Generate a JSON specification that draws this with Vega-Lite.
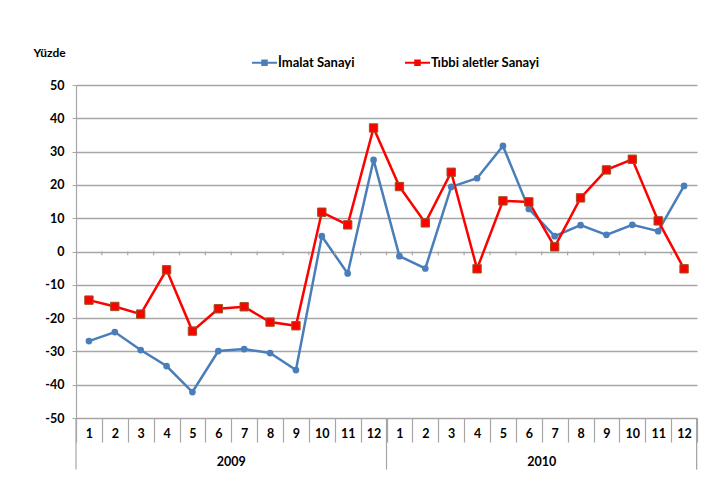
{
  "$schema": "https://vega.github.io/schema/vega-lite/v6.json",
  "autosize": "none",
  "width": 621,
  "height": 333,
  "padding": {"left": 76, "top": 85, "right": 13, "bottom": 79},
  "background": "white",
  "config": {
    "font": "Lato",
    "view": {"stroke": null},
    "axis": {"labelFont": "Lato", "labelFontWeight": "bold", "labelFontSize": 12.5, "labelColor": "#000", "titleFont": "Lato"}
  },
  "datasets": {
    "series": [
      {"idx": 1, "series": "İmalat Sanayi", "value": -26.9},
      {"idx": 2, "series": "İmalat Sanayi", "value": -24.2},
      {"idx": 3, "series": "İmalat Sanayi", "value": -29.6},
      {"idx": 4, "series": "İmalat Sanayi", "value": -34.4},
      {"idx": 5, "series": "İmalat Sanayi", "value": -42.2},
      {"idx": 6, "series": "İmalat Sanayi", "value": -29.9},
      {"idx": 7, "series": "İmalat Sanayi", "value": -29.3},
      {"idx": 8, "series": "İmalat Sanayi", "value": -30.5},
      {"idx": 9, "series": "İmalat Sanayi", "value": -35.6},
      {"idx": 10, "series": "İmalat Sanayi", "value": 4.6},
      {"idx": 11, "series": "İmalat Sanayi", "value": -6.6},
      {"idx": 12, "series": "İmalat Sanayi", "value": 27.5},
      {"idx": 13, "series": "İmalat Sanayi", "value": -1.4},
      {"idx": 14, "series": "İmalat Sanayi", "value": -5.1},
      {"idx": 15, "series": "İmalat Sanayi", "value": 19.4},
      {"idx": 16, "series": "İmalat Sanayi", "value": 22.0},
      {"idx": 17, "series": "İmalat Sanayi", "value": 31.7},
      {"idx": 18, "series": "İmalat Sanayi", "value": 12.8},
      {"idx": 19, "series": "İmalat Sanayi", "value": 4.6},
      {"idx": 20, "series": "İmalat Sanayi", "value": 7.9},
      {"idx": 21, "series": "İmalat Sanayi", "value": 5.0},
      {"idx": 22, "series": "İmalat Sanayi", "value": 8.0},
      {"idx": 23, "series": "İmalat Sanayi", "value": 6.1},
      {"idx": 24, "series": "İmalat Sanayi", "value": 19.7},
      {"idx": 1, "series": "Tıbbi aletler Sanayi", "value": -14.6},
      {"idx": 2, "series": "Tıbbi aletler Sanayi", "value": -16.5},
      {"idx": 3, "series": "Tıbbi aletler Sanayi", "value": -18.8},
      {"idx": 4, "series": "Tıbbi aletler Sanayi", "value": -5.5},
      {"idx": 5, "series": "Tıbbi aletler Sanayi", "value": -23.9},
      {"idx": 6, "series": "Tıbbi aletler Sanayi", "value": -17.2},
      {"idx": 7, "series": "Tıbbi aletler Sanayi", "value": -16.6},
      {"idx": 8, "series": "Tıbbi aletler Sanayi", "value": -21.2},
      {"idx": 9, "series": "Tıbbi aletler Sanayi", "value": -22.3},
      {"idx": 10, "series": "Tıbbi aletler Sanayi", "value": 11.8},
      {"idx": 11, "series": "Tıbbi aletler Sanayi", "value": 8.0},
      {"idx": 12, "series": "Tıbbi aletler Sanayi", "value": 37.1},
      {"idx": 13, "series": "Tıbbi aletler Sanayi", "value": 19.5},
      {"idx": 14, "series": "Tıbbi aletler Sanayi", "value": 8.6},
      {"idx": 15, "series": "Tıbbi aletler Sanayi", "value": 23.8},
      {"idx": 16, "series": "Tıbbi aletler Sanayi", "value": -5.2},
      {"idx": 17, "series": "Tıbbi aletler Sanayi", "value": 15.2},
      {"idx": 18, "series": "Tıbbi aletler Sanayi", "value": 14.9},
      {"idx": 19, "series": "Tıbbi aletler Sanayi", "value": 1.4},
      {"idx": 20, "series": "Tıbbi aletler Sanayi", "value": 16.1},
      {"idx": 21, "series": "Tıbbi aletler Sanayi", "value": 24.5},
      {"idx": 22, "series": "Tıbbi aletler Sanayi", "value": 27.7},
      {"idx": 23, "series": "Tıbbi aletler Sanayi", "value": 9.2},
      {"idx": 24, "series": "Tıbbi aletler Sanayi", "value": -5.2}
    ],
    "years": [
      {"idx": 6, "year": "2009"},
      {"idx": 18, "year": "2010"}
    ],
    "edges": [
      {"idx": 1, "side": "start"},
      {"idx": 13, "side": "start"},
      {"idx": 24, "side": "end"}
    ],
    "zeroticks": [
      {"idx": 2}, {"idx": 3}, {"idx": 4}, {"idx": 5}, {"idx": 6}, {"idx": 7}, {"idx": 8}, {"idx": 9}, {"idx": 10}, {"idx": 11}, {"idx": 12}, {"idx": 13},
      {"idx": 14}, {"idx": 15}, {"idx": 16}, {"idx": 17}, {"idx": 18}, {"idx": 19}, {"idx": 20}, {"idx": 21}, {"idx": 22}, {"idx": 23}, {"idx": 24}
    ]
  },
  "layer": [
    {
      "data": {"name": "series"},
      "mark": {"type": "line", "strokeWidth": 2.5},
      "encoding": {
        "x": {"field": "idx", "type": "ordinal",
          "scale": {"domain": [1,2,3,4,5,6,7,8,9,10,11,12,13,14,15,16,17,18,19,20,21,22,23,24], "paddingInner": 0, "paddingOuter": 0},
          "axis": {
            "title": null, "domain": false, "grid": false,
            "ticks": true, "tickBand": "extent", "tickSize": 24, "tickColor": "#a6a6a6", "tickWidth": 1.2,
            "labelPadding": -15, "labelBaseline": "top", "labelAngle": 0,
            "labelExpr": "datum.value >= 1 ? '' + (((datum.value - 1) % 12) + 1) : ''"
          }},
        "y": {"field": "value", "type": "quantitative",
          "scale": {"domain": [-50, 50], "nice": false, "zero": false},
          "axis": {
            "values": [-50,-40,-30,-20,-10,0,10,20,30,40,50],
            "tickCount": 11,
            "labelOverlap": false,
            "labelExpr": "datum.value < 0 ? '-' + abs(datum.value) : '' + datum.value",
            "grid": true, "gridColor": "#a6a6a6", "gridWidth": 1.5,
            "domain": true, "domainColor": "#a6a6a6", "domainWidth": 1.2,
            "ticks": true, "tickSize": 4, "tickColor": "#a6a6a6",
            "labelPadding": 8,
            "title": "Yüzde", "titleAngle": 0, "titleX": -43, "titleY": -33,
            "titleAlign": "left", "titleBaseline": "middle", "titleFontSize": 12, "titleFontWeight": "bold", "titleColor": "#000"
          }},
        "color": {"field": "series", "type": "nominal",
          "scale": {"domain": ["İmalat Sanayi", "Tıbbi aletler Sanayi"], "range": ["#4a7ebb", "#ff0000"]},
          "legend": {
            "title": null, "orient": "none", "direction": "horizontal",
            "legendX": 176, "legendY": -35,
            "symbolType": "M-1,-0.08L1,-0.08L1,0.08L-1,0.08Z M-0.26,-0.26L0.26,-0.26L0.26,0.26L-0.26,0.26Z",
            "symbolSize": 625, "symbolStrokeWidth": 0,
            "labelFont": "Lato", "labelFontWeight": "bold", "labelFontSize": 13, "labelColor": "#000",
            "labelOffset": 1, "columnPadding": 50,
            "encode": {"symbols": {"update": {
              "fill": {"scale": "color", "field": "value"},
              "strokeWidth": {"value": 0}
            }}}
          }}
      }
    },
    {
      "data": {"name": "zeroticks"},
      "mark": {"type": "rule", "color": "#a6a6a6", "strokeWidth": 1.2},
      "encoding": {
        "x": {"field": "idx", "type": "ordinal", "bandPosition": 0},
        "y": {"datum": 0, "type": "quantitative"},
        "y2": {"datum": -1.1}
      }
    },
    {
      "data": {"name": "edges"},
      "transform": [{"filter": "datum.side == 'start'"}],
      "mark": {"type": "rule", "color": "#a6a6a6", "strokeWidth": 1.2},
      "encoding": {
        "x": {"field": "idx", "type": "ordinal", "bandPosition": 0},
        "y": {"datum": -50, "type": "quantitative"},
        "y2": {"datum": -65.5}
      }
    },
    {
      "data": {"name": "edges"},
      "transform": [{"filter": "datum.side == 'end'"}],
      "mark": {"type": "rule", "color": "#a6a6a6", "strokeWidth": 1.3, "xOffset": 25.5},
      "encoding": {
        "x": {"field": "idx", "type": "ordinal", "bandPosition": 0},
        "y": {"datum": -50, "type": "quantitative"},
        "y2": {"datum": -65.5}
      }
    },
    {
      "data": {"name": "years"},
      "mark": {"type": "text", "font": "Lato", "fontWeight": "bold", "fontSize": 12.5, "color": "#000", "baseline": "middle"},
      "encoding": {
        "x": {"field": "idx", "type": "ordinal", "bandPosition": 1},
        "y": {"datum": -63.2, "type": "quantitative"},
        "text": {"field": "year"}
      }
    },
    {
      "data": {"name": "series"},
      "transform": [{"filter": "datum.series == 'İmalat Sanayi'"}],
      "mark": {"type": "point", "shape": "circle", "filled": true, "opacity": 1, "size": 45, "color": "#4a7ebb"},
      "encoding": {
        "x": {"field": "idx", "type": "ordinal"},
        "y": {"field": "value", "type": "quantitative"}
      }
    },
    {
      "data": {"name": "series"},
      "transform": [{"filter": "datum.series != 'İmalat Sanayi'"}],
      "mark": {"type": "point", "shape": "square", "filled": true, "opacity": 1, "size": 70, "fill": "#ff0000", "stroke": "#a0501e", "strokeWidth": 1},
      "encoding": {
        "x": {"field": "idx", "type": "ordinal"},
        "y": {"field": "value", "type": "quantitative"}
      }
    }
  ]
}
